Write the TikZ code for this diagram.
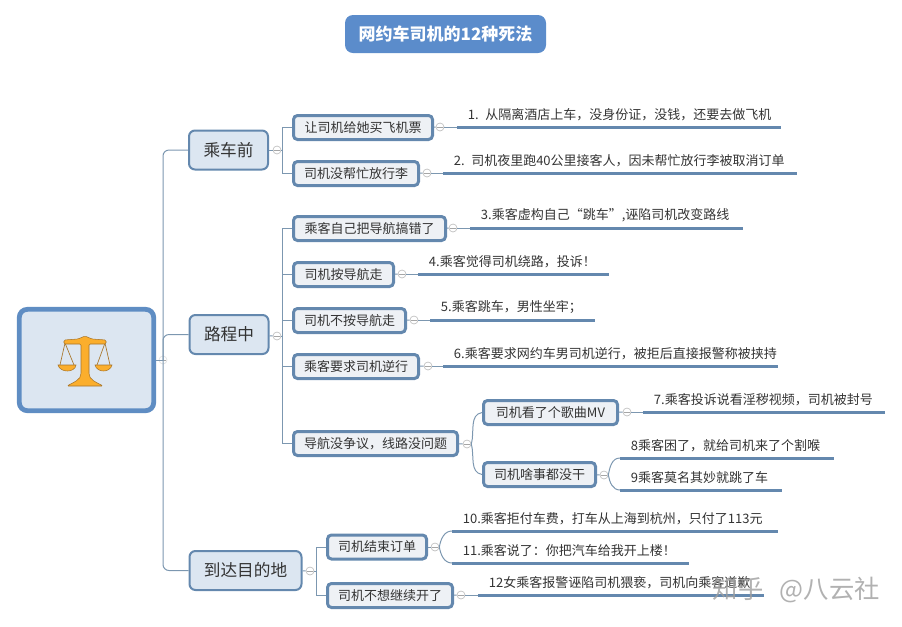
\documentclass[tikz,border=0pt]{standalone}
\usepackage{fontspec}
\setmainfont{Noto Sans CJK SC}
\usepackage{xcolor}
\usetikzlibrary{positioning, calc}

\definecolor{frameblue}{HTML}{6488AE}
\definecolor{rootblue}{HTML}{5F8DC3}
\definecolor{titleblue}{HTML}{5B8CCB}
\definecolor{paleblue}{HTML}{DCE6F1}
\definecolor{palegrey}{HTML}{EEF1F5}
\definecolor{linkblue}{HTML}{7C97B0}
\definecolor{inkgrey}{HTML}{333333}
\definecolor{scalefill}{HTML}{FBAE2C}
\definecolor{scaleedge}{HTML}{A8752A}

\begin{document}
\begin{tikzpicture}[
        x=0.75pt, y=-0.75pt,
        wide/.style={minimum width=#1*0.75pt},
        headline/.style={rectangle, rounded corners=6pt, fill=titleblue, text=white, font=\fontsize{12.75}{15}\selectfont\bfseries, minimum width=150.75pt, minimum height=28.5pt, inner sep=0pt},
        rootbox/.style={rectangle, rounded corners=6pt, draw=rootblue, line width=3.6pt, fill=paleblue, minimum width=100.8pt, minimum height=76pt},
        branch/.style={rectangle, rounded corners=4.5pt, anchor=west, draw=frameblue, line width=1.5pt, fill=paleblue, text=inkgrey, font=\fontsize{12.5}{15}\selectfont, minimum height=29.25pt, inner sep=0pt},
        topic/.style={rectangle, rounded corners=3pt, anchor=west, draw=frameblue, line width=2.25pt, fill=palegrey, text=inkgrey, font=\fontsize{9.75}{12}\selectfont, minimum height=18pt, inner sep=0pt},
        leaf/.style={anchor=south west, text=inkgrey, font=\fontsize{9.75}{12}\selectfont, inner xsep=8pt, inner ysep=4.5pt, text width=#1*0.75pt-16pt},
        rule/.style={line width=2.25pt, draw=frameblue},
        link/.style={line width=0.75pt, draw=linkblue},
        foldmark/.style={circle, draw=black!25, fill=white, line width=0.5pt, minimum size=6pt, inner sep=0pt, path picture={\draw[black!35, line width=0.4pt] ([xshift=1pt]path picture bounding box.west) -- ([xshift=-1pt]path picture bounding box.east);}},
        watermark/.style={text=black!38, opacity=0.8, font=\fontsize{19}{22}\selectfont, inner sep=0pt}
    ]

    \useasboundingbox (0,0) rectangle (902,626);

    % --- NODES ---
    \node (title) [headline] at (445.5,34) {网约车司机的12种死法};
    \node (root) [rootbox] at (86.5,360) {};

    % Branches
    \node (before) [branch, wide=79] at (188,150) {乘车前};
    \node (enroute) [branch, wide=79] at (188.5,334.5) {路程中};
    \node (arrival) [branch, wide=112] at (188.5,570.5) {到达目的地};

    % Topics
    \node (tickets) [topic, wide=139] at (292,127.5) {让司机给她买飞机票};
    \node (luggage) [topic, wide=125] at (292,173.5) {司机没帮忙放行李};
    \node (misnav) [topic, wide=152] at (292,228.5) {乘客自己把导航搞错了};
    \node (follow) [topic, wide=100] at (292,274.5) {司机按导航走};
    \node (ignore) [topic, wide=112] at (292,320.5) {司机不按导航走};
    \node (reverse) [topic, wide=125] at (292,366.5) {乘客要求司机逆行};
    \node (noissue) [topic, wide=164] at (292,443.5) {导航没争议，线路没问题};
    \node (song) [topic, wide=134] at (482,412.5) {司机看了个歌曲MV};
    \node (idle) [topic, wide=112] at (482,474.5) {司机啥事都没干};
    \node (endorder) [topic, wide=99] at (326,547) {司机结束订单};
    \node (quit) [topic, wide=125] at (326,595.5) {司机不想继续开了};

    % Collapse marks
    \node (foldroot) [foldmark, draw=black!12] at (163,360) {};
    \node (foldbefore) [foldmark] at (277,150) {};
    \node (foldenroute) [foldmark] at (277,336) {};
    \node (foldarrival) [foldmark] at (310,571) {};
    \node (foldtickets) [foldmark] at (440,127) {};
    \node (foldluggage) [foldmark] at (427,173) {};
    \node (foldmisnav) [foldmark] at (453,228) {};
    \node (foldfollow) [foldmark] at (402,274) {};
    \node (foldignore) [foldmark] at (414,320) {};
    \node (foldreverse) [foldmark] at (428,366) {};
    \node (foldnoissue) [foldmark] at (467,444) {};
    \node (foldsong) [foldmark] at (627,412) {};
    \node (foldidle) [foldmark] at (604,475) {};
    \node (foldendorder) [foldmark] at (435,547) {};
    \node (foldquit) [foldmark] at (461,595) {};

    % Leaves
    \node (leafa) [leaf=323] at (457,127) {1. 从隔离酒店上车，没身份证，没钱，还要去做飞机};
    \node (leafb) [leaf=353] at (443,173) {2. 司机夜里跑40公里接客人，因未帮忙放行李被取消订单};
    \node (leafc) [leaf=272] at (470,228) {3.乘客虚构自己“跳车”,诬陷司机改变路线};
    \node (leafd) [leaf=190] at (418,274) {4.乘客觉得司机绕路，投诉！};
    \node (leafe) [leaf=164] at (430,320) {5.乘客跳车，男性坐牢；};
    \node (leaff) [leaf=334] at (443,366) {6.乘客要求网约车男司机逆行，被拒后直接报警称被挟持};
    \node (leafg) [leaf=241] at (643,412) {7.乘客投诉说看淫秽视频，司机被封号};
    \node (leafh) [leaf=213] at (620,458) {8乘客困了，就给司机来了个割喉};
    \node (leafi) [leaf=161] at (620,490) {9乘客莫名其妙就跳了车};
    \node (leafj) [leaf=325] at (452,531) {10.乘客拒付车费，打车从上海到杭州，只付了113元};
    \node (leafk) [leaf=236] at (452,563) {11.乘客说了：你把汽车给我开上楼！};
    \node (leafl) [leaf=285] at (478,595) {12女乘客报警诬陷司机猥亵，司机向乘客道歉};

    \coordinate (spinebefore) at (282,150);
    \coordinate (spineenroute) at (282,336);
    \coordinate (spinearrival) at (316,571);

    % --- ARROWS ---
    % Root
    \draw [link] (root) -- (foldroot.center);
    \draw [link, rounded corners=4.5pt] (foldroot.center) |- (before);
    \draw [link, rounded corners=4.5pt] (foldroot.center) |- (enroute);
    \draw [link, rounded corners=4.5pt] (foldroot.center) |- (arrival);

    % Before the ride
    \draw [link] (before) -- (foldbefore);
    \draw [link] (foldbefore) -- (spinebefore);
    \draw [link] (spinebefore) |- (tickets);
    \draw [link] (spinebefore) |- (luggage);

    % On the road
    \draw [link] (enroute) -- (foldenroute);
    \draw [link] (foldenroute) -- (spineenroute);
    \draw [link] (spineenroute) |- (misnav);
    \draw [link] (spineenroute) |- (follow);
    \draw [link] (spineenroute) |- (ignore);
    \draw [link] (spineenroute) |- (reverse);
    \draw [link] (spineenroute) |- (noissue);
    \draw [link] (noissue) -- (foldnoissue);
    \draw [link] (foldnoissue.east) to[out=75, in=190] (song.west);
    \draw [link] (foldnoissue.east) to[out=-75, in=170] (idle.west);

    % Arrival
    \draw [link] (arrival) -- (foldarrival);
    \draw [link] (foldarrival) -- (spinearrival);
    \draw [link] (spinearrival) |- (endorder);
    \draw [link] (spinearrival) |- (quit);

    % Topic to fold
    \foreach \parent/\mark in {tickets/foldtickets, luggage/foldluggage, misnav/foldmisnav, follow/foldfollow, ignore/foldignore, reverse/foldreverse, song/foldsong, idle/foldidle, endorder/foldendorder, quit/foldquit}
        \draw [link] (\parent) -- (\mark);

    % Fold to leaf
    \foreach \mark/\tip in {foldtickets/leafa, foldluggage/leafb, foldmisnav/leafc, foldfollow/leafd, foldignore/leafe, foldreverse/leaff, foldsong/leafg, foldquit/leafl}
        \draw [link] (\mark) -- (\tip.south west);
    \draw [link] (foldidle.east) to[out=80, in=180] (leafh.south west);
    \draw [link] (foldidle.east) to[out=-80, in=180] (leafi.south west);
    \draw [link] (foldendorder.east) to[out=80, in=180] (leafj.south west);
    \draw [link] (foldendorder.east) to[out=-80, in=180] (leafk.south west);

    % Leaf rules
    \foreach \tip in {leafa, leafb, leafc, leafd, leafe, leaff, leafg, leafh, leafi, leafj, leafk, leafl}
        \draw [rule] (\tip.south west) -- (\tip.south east);

    % Scales
    \draw [scaleedge, line width=0.5pt] (65,343) -- (60,365) (65,343) -- (74,365);
    \draw [scaleedge, line width=0.5pt] (105,343) -- (97,365) (105,343) -- (110,365);
    \draw [scaleedge, fill=scalefill, line width=0.4pt, rounded corners=1pt] (64,340) -- (78,339) -- (85,336) -- (92,339) -- (106,340) -- (106,344) -- (89,344) -- (89,372) .. controls (89,380) and (96,382) .. (103,386) -- (67,386) .. controls (74,382) and (81,380) .. (81,372) -- (81,344) -- (64,344) -- cycle;
    \draw [scaleedge, fill=scalefill, line width=0.4pt] (58,365) -- (76,365) .. controls (75,373) and (60,373) .. (58,365) -- cycle;
    \draw [scaleedge, fill=scalefill, line width=0.4pt] (95,365) -- (112,365) .. controls (110,373) and (97,373) .. (95,365) -- cycle;

    % Watermark
    \node (mark) [watermark, anchor=east] at (880,590) {知乎\hspace{8pt} @八云社};

\end{tikzpicture}
\end{document}
